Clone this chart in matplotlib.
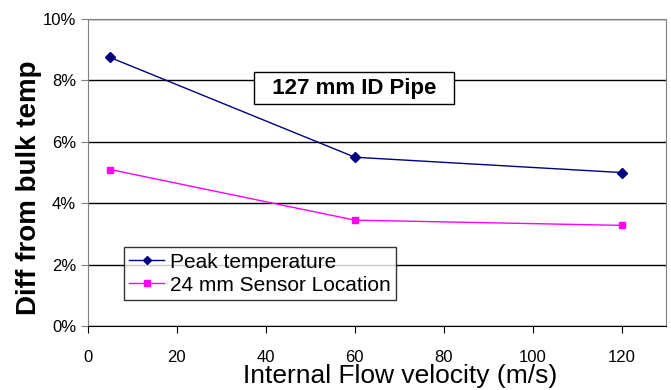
import matplotlib
matplotlib.use('Agg')
import matplotlib.pyplot as plt
from matplotlib.ticker import FuncFormatter

plt.rcParams['font.family'] = ['Liberation Sans', 'DejaVu Sans']

velocity = [5, 60, 120]
peak_temp = [8.75, 5.5, 5.0]
sensor_24mm = [5.1, 3.45, 3.28]

fig = plt.figure(figsize=(6.71, 3.90), dpi=100)
ax = fig.add_axes([0.131, 0.164, 0.862, 0.787])

ax.plot(velocity, peak_temp, color='#000080', lw=1, marker='D', ms=5,
        label='Peak temperature')
ax.plot(velocity, sensor_24mm, color='#ff00ff', lw=1, marker='s', ms=5,
        label='24 mm Sensor Location')

ax.set_xlim(0, 130)
ax.set_ylim(0, 10)
ax.set_xticks(range(0, 121, 20))
ax.set_yticks(range(0, 11, 2))
ax.yaxis.set_major_formatter(FuncFormatter(lambda v, p: '%d%%' % v))
ax.grid(axis='y', color='black', lw=1)
ax.set_axisbelow(True)

for s in ['left', 'top', 'right']:
    ax.spines[s].set_color('#808080')
ax.spines['bottom'].set_color('black')
ax.tick_params(axis='both', labelsize=12, direction='out', length=5)
ax.tick_params(axis='x', pad=12)
ax.tick_params(axis='y', color='#808080')

ax.set_ylabel('Diff from bulk temp', fontsize=20, fontweight='bold')
ax.yaxis.set_label_coords(-0.08, 0.45)
ax.set_xlabel('Internal Flow velocity (m/s)', fontsize=19)
ax.xaxis.set_label_coords(0.54, -0.125)

ax.text(0.46, 0.775, '  127 mm ID Pipe  ', transform=ax.transAxes, fontsize=16,
        fontweight='bold', ha='center', va='center',
        bbox=dict(boxstyle='square,pad=0.25', fc='white', ec='black', lw=1))

leg = ax.legend(loc='lower left', bbox_to_anchor=(0.062, 0.085), fontsize=15,
                frameon=True, fancybox=False, edgecolor='black',
                borderaxespad=0, borderpad=0.25, handlelength=1.7,
                labelspacing=0.2, handletextpad=0.25, markerscale=0.8)
leg.get_frame().set_linewidth(1)

fig.savefig('out.png', dpi=100)
